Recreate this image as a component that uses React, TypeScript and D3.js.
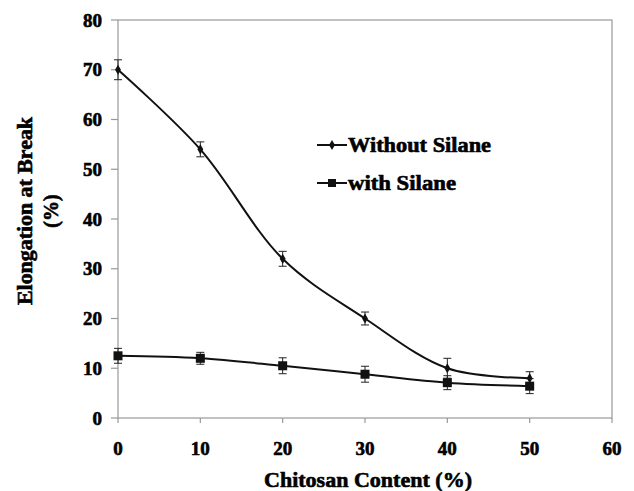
import React from "react";
import * as d3 from "d3";

// data
const chitosan = [0, 10, 20, 30, 40, 50];
const withoutSilane = [70, 54, 32, 20, 10, 8];
const withoutSilaneErr = [2, 1.5, 1.5, 1.3, 2, 1.3];
const withSilane = [12.5, 12, 10.5, 8.8, 7.1, 6.4];
const withSilaneErr = [1.5, 1.2, 1.6, 1.6, 1.4, 1.5];
const xTicks = [0, 10, 20, 30, 40, 50, 60];
const yTicks = [0, 10, 20, 30, 40, 50, 60, 70, 80];

const W = 634;
const H = 491;
const margin = { top: 20, right: 22, bottom: 73, left: 118 };
const font = "'Liberation Serif', 'Times New Roman', serif";

// heavy bold look of the scanned figure
const heavy = { fontFamily: font, fontWeight: "bold" as const, stroke: "#000", strokeWidth: 0.6, fill: "#000" };

export default function App() {
  const x = d3.scaleLinear().domain([0, 60]).range([margin.left, W - margin.right]);
  const y = d3.scaleLinear().domain([0, 80]).range([H - margin.bottom, margin.top]);

  const line = d3
    .line<number>()
    .x((_, i) => x(chitosan[i]))
    .y((d) => y(d))
    .curve(d3.curveCatmullRom.alpha(0.5));

  const errBars = (vals: number[], errs: number[], key: string) =>
    vals.map((v, i) => {
      const cx = x(chitosan[i]);
      return (
        <g key={key + i} stroke="#222" strokeWidth={1}>
          <line x1={cx} x2={cx} y1={y(v - errs[i])} y2={y(v + errs[i])} />
          <line x1={cx - 4} x2={cx + 4} y1={y(v - errs[i])} y2={y(v - errs[i])} />
          <line x1={cx - 4} x2={cx + 4} y1={y(v + errs[i])} y2={y(v + errs[i])} />
        </g>
      );
    });

  const diamond = d3.symbol(d3.symbolDiamond, 30)()!;

  return (
    <svg width={W} height={H} style={{ position: "absolute", left: 0, top: 0, background: "#fff" }}>
      {/* frame */}
      <rect
        x={margin.left}
        y={margin.top}
        width={W - margin.left - margin.right}
        height={H - margin.top - margin.bottom}
        fill="none"
        stroke="#999"
        strokeWidth={1.2}
      />
      {/* y ticks */}
      {yTicks.map((t) => (
        <g key={"y" + t}>
          <line x1={margin.left - 7} x2={margin.left} y1={y(t)} y2={y(t)} stroke="#999" strokeWidth={1.2} />
          <text x={102} y={y(t)} dy="0.35em" textAnchor="end" fontSize={19} {...heavy}>
            {t}
          </text>
        </g>
      ))}
      {/* x ticks */}
      {xTicks.map((t) => (
        <g key={"x" + t}>
          <line x1={x(t)} x2={x(t)} y1={y(0)} y2={y(0) + 5} stroke="#999" strokeWidth={1.2} />
          <text x={x(t)} y={448} dy="0.35em" textAnchor="middle" fontSize={19} {...heavy}>
            {t}
          </text>
        </g>
      ))}
      {/* axis titles */}
      <text
        transform="translate(25,211) rotate(-90)"
        dy="0.35em"
        textAnchor="middle"
        fontSize={20}
        textLength={188}
        lengthAdjust="spacingAndGlyphs"
        {...heavy}
      >
        Elongation at Break
      </text>
      <text transform="translate(51,211) rotate(-90)" dy="0.35em" textAnchor="middle" fontSize={20} {...heavy}>
        (%)
      </text>
      <text
        x={368}
        y={480}
        dy="0.35em"
        textAnchor="middle"
        fontSize={21}
        textLength={208}
        lengthAdjust="spacingAndGlyphs"
        {...heavy}
      >
        Chitosan Content (%)
      </text>

      {/* series */}
      {errBars(withoutSilane, withoutSilaneErr, "a")}
      {errBars(withSilane, withSilaneErr, "b")}
      <path d={line(withoutSilane)!} fill="none" stroke="#111" strokeWidth={2} />
      <path d={line(withSilane)!} fill="none" stroke="#111" strokeWidth={2} />
      {withoutSilane.map((v, i) => (
        <path key={"d" + i} d={diamond} transform={`translate(${x(chitosan[i])},${y(v)})`} fill="#111" />
      ))}
      {withSilane.map((v, i) => (
        <rect key={"s" + i} x={x(chitosan[i]) - 4.5} y={y(v) - 4.5} width={9} height={9} fill="#111" />
      ))}

      {/* legend */}
      <g>
        <line x1={317} x2={347} y1={145} y2={145} stroke="#111" strokeWidth={2} />
        <path d={diamond} transform="translate(332,145)" fill="#111" />
        <text
          x={348}
          y={145}
          dy="0.35em"
          fontSize={20}
          textLength={143}
          lengthAdjust="spacingAndGlyphs"
          {...heavy}
        >
          Without Silane
        </text>
        <line x1={317} x2={347} y1={183} y2={183} stroke="#111" strokeWidth={2} />
        <rect x={328} y={179} width={8} height={8} fill="#111" />
        <text
          x={348}
          y={183}
          dy="0.35em"
          fontSize={20}
          textLength={108}
          lengthAdjust="spacingAndGlyphs"
          {...heavy}
        >
          with Silane
        </text>
      </g>
    </svg>
  );
}
